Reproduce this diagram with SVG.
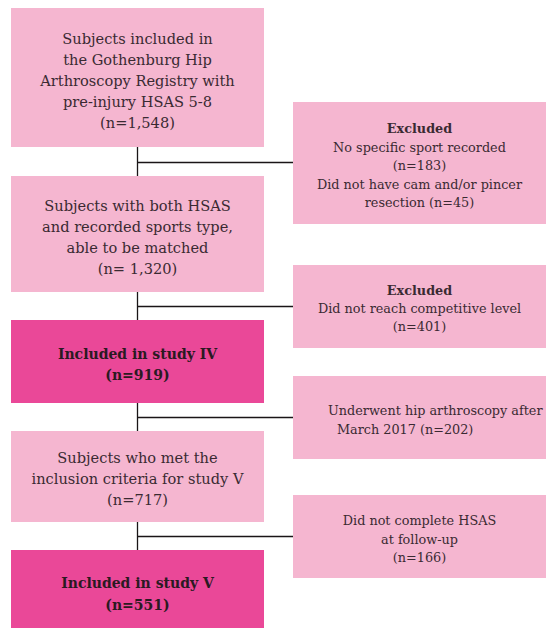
<svg xmlns="http://www.w3.org/2000/svg" width="553" height="628" viewBox="0 0 553 628">
<style>
.light{fill:#F5B6D0}
.dark{fill:#EA4898}
text{font-family:"DejaVu Serif","Liberation Serif",serif;fill:#3a2a32;text-anchor:middle}
.m{font-size:14.6px}
.s{font-size:12.8px}
.b{font-weight:bold}
.bm{font-size:14px;font-weight:bold;fill:#2a1a22}
line{stroke:#1a1517;stroke-width:1.3}
</style>
<rect width="553" height="628" fill="#ffffff"/>
<g id="connectors">
<line x1="137.5" y1="147" x2="137.5" y2="176"/>
<line x1="137.5" y1="292" x2="137.5" y2="320"/>
<line x1="137.5" y1="403" x2="137.5" y2="431"/>
<line x1="137.5" y1="522" x2="137.5" y2="550"/>
<line x1="137" y1="162.5" x2="293" y2="162.5"/>
<line x1="137" y1="306.5" x2="293" y2="306.5"/>
<line x1="137" y1="417.5" x2="293" y2="417.5"/>
<line x1="137" y1="536.5" x2="293" y2="536.5"/>
</g>
<g id="n1">
<rect class="light" x="11" y="8" width="253" height="139"/>
<text class="m" x="137.5" y="44">Subjects included in</text>
<text class="m" x="137.5" y="65">the Gothenburg Hip</text>
<text class="m" x="137.5" y="86">Arthroscopy Registry with</text>
<text class="m" x="137.5" y="107">pre-injury HSAS 5-8</text>
<text class="m" x="137.5" y="128">(n=1,548)</text>
</g>
<g id="n2">
<rect class="light" x="11" y="176" width="253" height="116"/>
<text class="m" x="137.5" y="211">Subjects with both HSAS</text>
<text class="m" x="137.5" y="232">and recorded sports type,</text>
<text class="m" x="137.5" y="253">able to be matched</text>
<text class="m" x="137.5" y="274">(n= 1,320)</text>
</g>
<g id="n3">
<rect class="dark" x="11" y="320" width="253" height="83"/>
<text class="bm" x="137.5" y="359">Included in study IV</text>
<text class="bm" x="137.5" y="380">(n=919)</text>
</g>
<g id="n4">
<rect class="light" x="11" y="431" width="253" height="91"/>
<text class="m" x="137.5" y="463">Subjects who met the</text>
<text class="m" x="137.5" y="484">inclusion criteria for study V</text>
<text class="m" x="137.5" y="505">(n=717)</text>
</g>
<g id="n5">
<rect class="dark" x="11" y="550" width="253" height="78"/>
<text class="bm" x="137.5" y="588">Included in study V</text>
<text class="bm" x="137.5" y="610">(n=551)</text>
</g>
<g id="r1">
<rect class="light" x="293" y="102" width="253" height="122"/>
<text class="s b" x="419.5" y="133">Excluded</text>
<text class="s" x="419.5" y="152">No specific sport recorded</text>
<text class="s" x="419.5" y="170">(n=183)</text>
<text class="s" x="419.5" y="189">Did not have cam and/or pincer</text>
<text class="s" x="419.5" y="207">resection (n=45)</text>
</g>
<g id="r2">
<rect class="light" x="293" y="265" width="253" height="83"/>
<text class="s b" x="419.5" y="295">Excluded</text>
<text class="s" x="419.5" y="313">Did not reach competitive level</text>
<text class="s" x="419.5" y="331">(n=401)</text>
</g>
<g id="r3">
<rect class="light" x="293" y="376" width="253" height="83"/>
<text class="s" x="328" y="415" style="text-anchor:start">Underwent hip arthroscopy after</text>
<text class="s" x="337" y="434" style="text-anchor:start">March 2017 (n=202)</text>
</g>
<g id="r4">
<rect class="light" x="293" y="495" width="253" height="83"/>
<text class="s" x="419.5" y="525">Did not complete HSAS</text>
<text class="s" x="419.5" y="544">at follow-up</text>
<text class="s" x="419.5" y="562">(n=166)</text>
</g>
</svg>
